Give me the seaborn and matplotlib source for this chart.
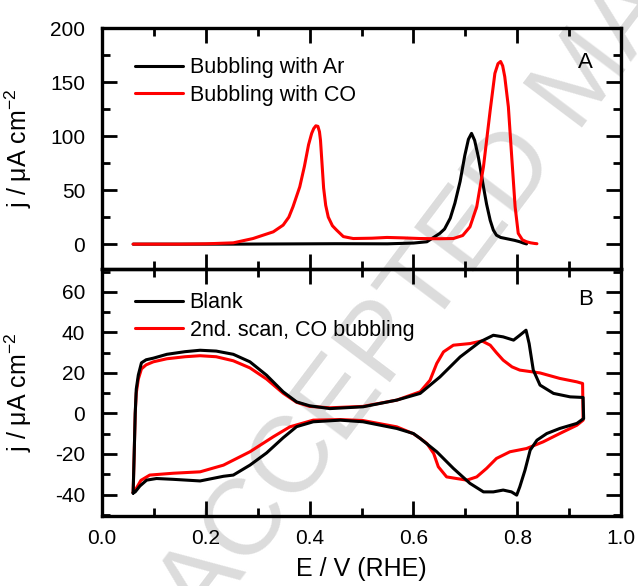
import numpy as np
import pandas as pd
import matplotlib
matplotlib.use("Agg")
import matplotlib.pyplot as plt
from matplotlib.ticker import MultipleLocator
import seaborn as sns

# ---------------- data ----------------
# Panel A: stripping curves
ar_E = [0.060, 0.150, 0.250, 0.350, 0.450, 0.550, 0.600, 0.626, 0.651, 0.660, 0.671,
        0.680, 0.690, 0.699, 0.706, 0.712, 0.718, 0.725, 0.730, 0.735, 0.741, 0.748,
        0.754, 0.760, 0.768, 0.780, 0.795, 0.805, 0.812, 0.818]
ar_j = [0.0, 0.0, 0.0, 0.2, 0.4, 0.3, 1.0, 2.2, 10.0, 14.0, 24.0,
        38.0, 58.0, 82.0, 97.0, 102.5, 96.0, 81.0, 67.0, 53.0, 37.0, 22.0,
        13.0, 8.3, 6.2, 5.0, 3.5, 2.2, 1.0, 0.2]

co_E = [0.060, 0.150, 0.200, 0.253, 0.291, 0.330, 0.349, 0.360, 0.368, 0.381, 0.390,
        0.398, 0.404, 0.408, 0.412, 0.416, 0.419, 0.421, 0.424, 0.427, 0.431, 0.436,
        0.444, 0.452, 0.465, 0.484, 0.520, 0.549, 0.580, 0.613, 0.650, 0.677, 0.695,
        0.709, 0.722, 0.735, 0.748, 0.757, 0.763, 0.768, 0.772, 0.776, 0.783, 0.789,
        0.796, 0.802, 0.810, 0.818, 0.826, 0.834, 0.838]
co_j = [0.0, 0.0, 0.3, 1.2, 5.2, 11.4, 17.6, 25.0, 34.6, 53.0, 72.0,
        92.0, 102.5, 107.0, 109.5, 109.0, 104.0, 96.0, 74.0, 52.0, 36.0, 25.0,
        17.0, 13.0, 7.0, 5.2, 5.5, 6.2, 5.8, 5.2, 5.0, 5.2, 8.0,
        16.0, 34.5, 71.6, 124.0, 158.0, 167.0, 169.0, 165.0, 155.0, 127.0, 84.0,
        34.5, 10.0, 4.0, 2.2, 1.2, 0.6, 0.4]

# Panel B: cyclic voltammograms (anodic sweep followed by cathodic sweep)
blank_E = [0.060, 0.062, 0.064, 0.066, 0.070, 0.076, 0.085, 0.099, 0.125, 0.160,
           0.189, 0.220, 0.253, 0.285, 0.317, 0.349, 0.375, 0.400, 0.439, 0.503,
           0.568, 0.613, 0.651, 0.690, 0.728, 0.754, 0.773, 0.793, 0.805, 0.817,
           0.823, 0.831, 0.844, 0.870, 0.902, 0.927,
           0.928, 0.915, 0.882, 0.857, 0.838, 0.825, 0.815, 0.805, 0.799, 0.789,
           0.773, 0.754, 0.735, 0.709, 0.677, 0.645, 0.613, 0.600, 0.568, 0.503,
           0.459, 0.407, 0.375, 0.349, 0.317, 0.285, 0.253, 0.234, 0.189, 0.137,
           0.105, 0.086, 0.073, 0.064, 0.060]
blank_j = [-39.3, -20.0, 0.0, 12.0, 19.0, 25.0, 26.5, 27.3, 29.2, 30.5,
           31.2, 30.8, 29.2, 25.5, 18.9, 10.7, 5.7, 3.8, 2.4, 3.3,
           6.6, 9.9, 18.0, 27.9, 35.3, 38.6, 37.8, 36.2, 38.6, 41.1,
           34.5, 21.4, 14.0, 9.9, 8.2, 7.9,
           -2.5, -4.9, -7.4, -9.9, -13.2, -18.1, -28.0, -36.2, -40.3, -38.7,
           -37.8, -38.7, -38.7, -34.5, -27.1, -18.9, -12.3, -9.9, -7.4, -4.1,
           -3.3, -4.1, -6.5, -12.0, -19.5, -25.5, -30.4, -31.0, -33.3, -32.5,
           -32.1, -32.9, -35.8, -38.7, -39.3]

co2_E = [0.060, 0.062, 0.064, 0.066, 0.070, 0.076, 0.085, 0.099, 0.125, 0.160,
         0.189, 0.220, 0.253, 0.285, 0.317, 0.349, 0.375, 0.400, 0.439, 0.503,
         0.568, 0.613, 0.632, 0.645, 0.658, 0.677, 0.709, 0.732, 0.748, 0.760,
         0.773, 0.790, 0.805, 0.844, 0.882, 0.915, 0.926,
         0.927, 0.915, 0.882, 0.850, 0.818, 0.786, 0.760, 0.741, 0.722, 0.703,
         0.683, 0.664, 0.648, 0.639, 0.626, 0.613, 0.600, 0.568, 0.503, 0.459,
         0.407, 0.362, 0.330, 0.285, 0.234, 0.189, 0.137, 0.092, 0.075, 0.066,
         0.060]
co2_j = [-39.0, -20.0, 0.0, 10.0, 17.0, 22.0, 24.0, 25.5, 27.0, 28.0,
         28.5, 28.0, 26.0, 22.5, 17.0, 10.0, 5.5, 3.5, 2.8, 3.5,
         6.6, 10.7, 16.4, 24.7, 30.4, 33.7, 34.5, 35.8, 33.7, 30.0,
         26.3, 23.0, 21.4, 20.0, 17.3, 15.6, 14.8,
         -3.3, -5.8, -9.9, -14.0, -17.3, -18.9, -22.2, -27.1, -31.3, -32.9,
         -32.1, -31.3, -26.3, -19.7, -14.8, -12.3, -10.0, -6.6, -3.5, -3.0,
         -3.3, -6.6, -11.5, -18.9, -25.5, -28.8, -29.5, -30.4, -33.0, -37.0,
         -39.0]

labels_A = ["Bubbling with Ar", "Bubbling with CO"]
labels_B = ["Blank", "2nd. scan, CO bubbling"]

# ---------------- style ----------------
sns.set_theme(style="ticks", rc={"text.color": "black", "axes.labelcolor": "black",
                                 "xtick.color": "black", "ytick.color": "black",
                                 "axes.edgecolor": "black"})
plt.rcParams["font.family"] = ["Liberation Sans", "DejaVu Sans"]
plt.rcParams["mathtext.fontset"] = "custom"
plt.rcParams["mathtext.rm"] = "Liberation Sans"
plt.rcParams["mathtext.it"] = "Liberation Sans:italic"
plt.rcParams["mathtext.bf"] = "Liberation Sans:bold"
plt.rcParams["axes.unicode_minus"] = False

fig = plt.figure(figsize=(6.38, 5.86), dpi=100)
fig.patch.set_facecolor("white")

W, H = 638.0, 586.0
left, right = 102 / W, 621 / W
axA = fig.add_axes([left, 1 - 269 / H, right - left, 241 / H])
axB = fig.add_axes([left, 1 - 516 / H, right - left, 247 / H])

# watermark
fig.text(0.285, -0.045, "ACCEPTED MANUSCRIPT", rotation=53, rotation_mode="anchor",
         ha="left", va="center", fontsize=78, color="#dcdcdc", zorder=-5)

lw = 2.2
dA1 = pd.DataFrame({"E": ar_E, "j": ar_j})
dA2 = pd.DataFrame({"E": co_E, "j": co_j})
sns.lineplot(data=dA1, x="E", y="j", sort=False, estimator=None, color="black",
             lw=lw, ax=axA, label=labels_A[0])
sns.lineplot(data=dA2, x="E", y="j", sort=False, estimator=None, color="#ff0000",
             lw=lw, ax=axA, label=labels_A[1])

dB1 = pd.DataFrame({"E": blank_E, "j": blank_j})
dB2 = pd.DataFrame({"E": co2_E, "j": co2_j})
sns.lineplot(data=dB2, x="E", y="j", sort=False, estimator=None, color="#ff0000",
             lw=lw, ax=axB, label=labels_B[1])
sns.lineplot(data=dB1, x="E", y="j", sort=False, estimator=None, color="black",
             lw=lw, ax=axB, label=labels_B[0])

for ax in (axA, axB):
    ax.set_facecolor("none")
    ax.set_xlim(0.0, 1.0)
    ax.xaxis.set_major_locator(MultipleLocator(0.2))
    ax.xaxis.set_minor_locator(MultipleLocator(0.1))
    for s in ax.spines.values():
        s.set_visible(True)
        s.set_linewidth(2.4)
        s.set_color("black")
    ax.tick_params(which="both", direction="in", top=True, right=True,
                   width=2.0, colors="black", labelsize=15)
    ax.tick_params(which="major", length=11)
    ax.tick_params(which="minor", length=6)
    ax.tick_params(axis="y", which="major", pad=12)
    ax.tick_params(axis="x", which="major", pad=9)
    ax.set_ylabel("j / μA cm$^{\\mathregular{-2}}$", fontsize=18, color="black")
    ax.yaxis.set_label_coords(-0.131, 0.5)

axA.set_ylim(-23, 200)
axA.yaxis.set_major_locator(MultipleLocator(50))
axA.yaxis.set_minor_locator(MultipleLocator(25))
axA.tick_params(labelbottom=False)
axA.set_xlabel("")

axB.set_ylim(-50.6, 71.3)
axB.yaxis.set_major_locator(MultipleLocator(20))
axB.yaxis.set_minor_locator(MultipleLocator(10))
axB.set_xlabel("E / V (RHE)", fontsize=18, color="black")
axB.xaxis.set_label_coords(0.5, -0.165)

axA.text(0.931, 0.857, "A", transform=axA.transAxes, fontsize=16,
         ha="center", va="center", color="black")
axB.text(0.931, 0.877, "B", transform=axB.transAxes, fontsize=16,
         ha="center", va="center", color="black")

legkw = dict(loc="upper left", frameon=False, fontsize=15.5, handlelength=2.2,
             handletextpad=0.33, labelspacing=0.3, borderpad=0, borderaxespad=0,
             labelcolor="black")
hA, lA = axA.get_legend_handles_labels()
axA.legend(hA, lA, bbox_to_anchor=(0.064, 0.878), **legkw)
hB, lB = axB.get_legend_handles_labels()
order = [lB.index(labels_B[0]), lB.index(labels_B[1])]
axB.legend([hB[i] for i in order], [lB[i] for i in order],
           bbox_to_anchor=(0.064, 0.905), **legkw)

fig.savefig("out.png", dpi=100)
